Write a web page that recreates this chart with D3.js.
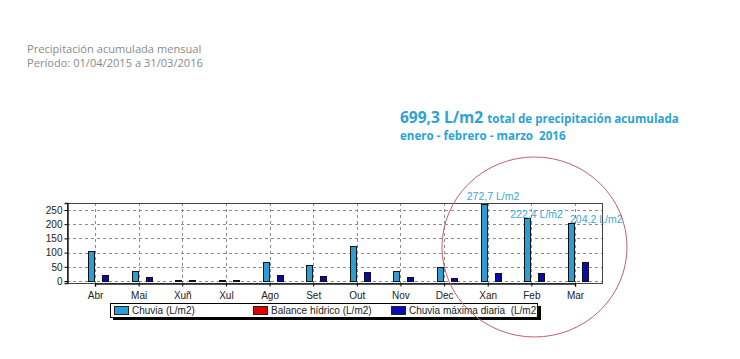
<!DOCTYPE html>
<html><head><meta charset="utf-8">
<script src="https://cdn.jsdelivr.net/npm/d3@7"></script>
<style>body{margin:0;background:#fff}svg{display:block}</style>
</head><body>
<svg id="c" width="740" height="359"></svg>
<script>
const categories = ["Abr","Mai","Xuñ","Xul","Ago","Set","Out","Nov","Dec","Xan","Feb","Mar"];
const chuvia = [104, 35, 5, 4, 68, 57, 123, 35, 48, 272.7, 222.4, 204.2];
const balance = [0,0,0,0,0,0,0,0,0,0,0,0];
const chuviaMax = [20, 14, 2, 2, 20, 19, 31, 15, 12, 29, 27, 68];
const yTicks = [0, 50, 100, 150, 200, 250];
const seriesNames = ["Chuvia (L/m2)", "Balance hídrico (L/m2)", "Chuvia máxima diaria  (L/m2)"];
const annotated = ["Xan","Feb","Mar"];
const annotationLabels = ["272,7 L/m2","222,4 L/m2","204,2 L/m2"];

const colors = ["#2a9fd6", "#e00000", "#0a0ab4"];
const svg = d3.select("#c");

// titles
svg.append("text").attr("x",27).attr("y",53).attr("fill","#8a8a8a")
  .style("font-family","'Open Sans'").style("font-size","11.1px").text("Precipitación acumulada mensual");
svg.append("text").attr("x",27).attr("y",67).attr("fill","#8a8a8a")
  .style("font-family","'Open Sans'").style("font-size","11.1px").text("Período: 01/04/2015 a 31/03/2016");

const hl = svg.append("text").attr("x",400).attr("y",123).attr("fill","#2ba3d6")
  .style("font-family","'Open Sans'").style("font-weight","bold");
hl.append("tspan").style("font-size","15.5px").text("699,3 L/m2 ");
hl.append("tspan").style("font-size","11.6px").text("total de precipitación acumulada");
svg.append("text").attr("x",400).attr("y",140).attr("fill","#2ba3d6")
  .style("font-family","'Open Sans'").style("font-weight","bold").style("font-size","11.6px")
  .attr("xml:space","preserve").text("enero - febrero - marzo  2016");

// plot
const L=67, R=603, T=203, B=283;
const x = d3.scalePoint().domain(categories).range([95,575]);
const y = d3.scaleLinear().domain([-7, 274.6]).range([B, T]);

const g = svg.append("g");
// gridlines
g.selectAll("line.hg").data(yTicks).join("line")
  .attr("x1",L).attr("x2",R).attr("y1",d=>Math.round(y(d))+0.5).attr("y2",d=>Math.round(y(d))+0.5)
  .attr("stroke","#8c8c8c").attr("stroke-dasharray","3,3");
g.selectAll("line.vg").data(categories).join("line")
  .attr("x1",d=>Math.round(x(d))+0.5).attr("x2",d=>Math.round(x(d))+0.5).attr("y1",T).attr("y2",B)
  .attr("stroke","#8c8c8c").attr("stroke-dasharray","3,3");

// bars
const bw = 7;
const series = [chuvia, balance, chuviaMax];
series.forEach((vals, si) => {
  g.selectAll("rect.s"+si).data(categories.map((c,i)=>({c, v:vals[i]}))).join("rect")
    .filter(d=>d.v>0)
    .attr("x", d=>Math.round(x(d.c)) - bw + si*bw + 0.5)
    .attr("y", d=>Math.round(y(d.v))+0.5)
    .attr("width", bw-1)
    .attr("height", d=>Math.round(y(0))-Math.round(y(d.v)))
    .attr("fill", colors[si]).attr("stroke","#111").attr("stroke-width",1);
});

// frame
svg.append("rect").attr("x",L+0.5).attr("y",T+0.5).attr("width",R-L-1).attr("height",B-T)
  .attr("fill","none").attr("stroke","#444");

// axes
const yAxis = d3.axisLeft(y).tickValues(yTicks).tickSize(3).tickPadding(2);
const ya = svg.append("g").attr("transform",`translate(${L+0.5},0)`).call(yAxis);
ya.select(".domain").attr("stroke","#222").attr("stroke-width",1.5);
ya.selectAll("text").style("font-family","Arial, 'Liberation Sans'").style("font-size","10px").attr("fill","#222");

const xAxis = d3.axisBottom(x).tickSize(3).tickPadding(5);
const xa = svg.append("g").attr("transform",`translate(0,${B+0.5})`).call(xAxis);
xa.select(".domain").attr("stroke","#222").attr("stroke-width",1.5);
xa.selectAll("text").style("font-family","Arial, 'Liberation Sans'").style("font-size","10px").attr("fill","#222");

// annotations
const dxs = [-21, -21, -5];
svg.selectAll("text.ann").data(annotated).join("text")
  .attr("x",(d,i)=>x(d)+dxs[i]).attr("y",(d,i)=>y(chuvia[categories.indexOf(d)]) - (i===0?4:0))
  .attr("fill","#3aa8d8").style("font-family","Arial, 'Liberation Sans'").style("font-size","10.5px")
  .text((d,i)=>annotationLabels[i]);

// legend
svg.append("rect").attr("x",113).attr("y",306).attr("width",428).attr("height",14).attr("fill","#000");
svg.append("rect").attr("x",110.5).attr("y",303.5).attr("width",427).attr("height",14)
  .attr("fill","#fff").attr("stroke","#000");
const lx = [114, 253, 391];
seriesNames.forEach((n,i)=>{
  svg.append("rect").attr("x",lx[i]+0.5).attr("y",306.5).attr("width",14).attr("height",8)
    .attr("fill",colors[i]).attr("stroke","#222");
  svg.append("text").attr("x",lx[i]+18).attr("y",314).attr("xml:space","preserve")
    .style("font-family","Arial, 'Liberation Sans'").style("font-size","10px").attr("fill","#222").text(n);
});

// circle
svg.append("ellipse").attr("cx",534.5).attr("cy",247).attr("rx",92.5).attr("ry",90)
  .attr("fill","none").attr("stroke","#c0606c").attr("stroke-width",1);
</script>
</body></html>
